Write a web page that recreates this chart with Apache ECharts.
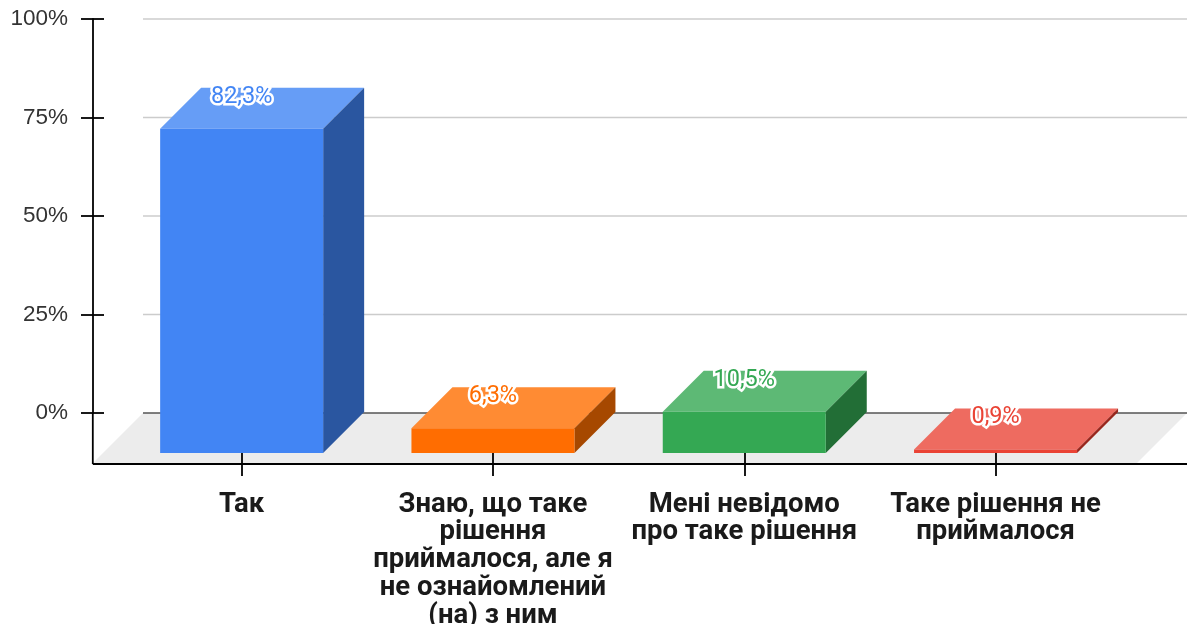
<!DOCTYPE html>
<html>
<head>
<meta charset="utf-8">
<style>
  html, body { margin: 0; padding: 0; background: #fff; }
  #chart { width: 1187px; height: 624px; }
</style>
<script src="https://cdn.jsdelivr.net/npm/echarts@6/dist/echarts.min.js"></script>
</head>
<body>
<div id="chart"></div>
<script>
const categories = [
  'Так',
  'Знаю, що таке\nрішення\nприймалося, але я\nне ознайомлений\n(на) з ним',
  'Мені невідомо\nпро таке рішення',
  'Таке рішення не\nприймалося'
]
const values = [82.3, 6.3, 10.5, 0.9]
const gridTicks = [25, 50, 75, 100]

const frontColors = ['#4285f4', '#ff6d01', '#34a853', '#ea4335']
const topColors = ['#669df6', '#ff8b33', '#5db975', '#ee6b60']
const sideColors = ['#2a56a0', '#a64800', '#226e36', '#98261c']

// fake 3d: the value axis is the back wall, the front face is shifted by depth
const depth = 41
const barHalf = 81.5
const floorDrop = 51
const axisX = 92.8
const wallLeft = 143
const wallRight = 1187
const axisColor = '#000'

function line(x1, y1, x2, y2, stroke, lineWidth) {
  return {
    type: 'line',
    shape: { x1, y1, x2, y2 },
    style: { stroke, lineWidth }
  }
}

function poly(points, fill) {
  return { type: 'polygon', shape: { points }, style: { fill } }
}

function renderFloor(params, api) {
  const y0 = api.coord([0, 0])[1]
  const yF = y0 + floorDrop
  return {
    type: 'group',
    children: [
      poly(
        [
          [wallLeft, y0],
          [wallRight, y0],
          [wallRight - floorDrop, yF],
          [wallLeft - floorDrop, yF]
        ],
        '#ececec'
      ),
      line(wallLeft, y0, wallRight, y0, '#555', 1.6),
      line(axisX, y0, axisX, yF, axisColor, 1.8),
      line(axisX, yF, wallRight, yF, axisColor, 1.8)
    ]
  }
}

function renderGridLine(params, api) {
  const y = api.coord([0, api.value(0)])[1]
  return line(wallLeft, y, wallRight, y, '#ccc', 1.6)
}

function renderBar(params, api) {
  const i = params.dataIndex
  const [cx, yTop] = api.coord([api.value(0), api.value(1)])
  const y0 = api.coord([0, 0])[1]
  const left = cx - barHalf
  const right = cx + barHalf
  const backTop = yTop - 1
  const backBottom = y0 - 1
  return {
    type: 'group',
    children: [
      poly(
        [
          [left, backTop + depth],
          [right, backTop + depth],
          [right + depth, backTop],
          [left + depth, backTop]
        ],
        topColors[i]
      ),
      poly(
        [
          [right, backTop + depth],
          [right + depth, backTop],
          [right + depth, backBottom],
          [right, backBottom + depth]
        ],
        sideColors[i]
      ),
      poly(
        [
          [left, backTop + depth],
          [right, backTop + depth],
          [right, backBottom + depth],
          [left, backBottom + depth]
        ],
        frontColors[i]
      ),
      {
        type: 'text',
        style: {
          text: values[i].toFixed(1).replace('.', ',') + '%',
          x: cx,
          y: backTop + 9,
          align: 'center',
          verticalAlign: 'middle',
          font: '23.5px Roboto',
          fill: frontColors[i],
          stroke: '#fff',
          lineWidth: 5,
          strokeFirst: true
        }
      }
    ]
  }
}

const chart = echarts.init(document.getElementById('chart'), null, { renderer: 'canvas' })

chart.setOption({
  animation: false,
  backgroundColor: '#fff',
  grid: { left: 116, top: 19, width: 1005.2, height: 394, outerBoundsMode: 'none' },
  xAxis: [
    {
      type: 'category',
      data: categories,
      position: 'bottom',
      offset: floorDrop,
      axisLine: { onZero: false, lineStyle: { color: axisColor, width: 1.8 } },
      axisTick: {
        show: true,
        alignWithLabel: true,
        length: 12,
        lineStyle: { color: axisColor, width: 1.8 }
      },
      axisLabel: {
        interval: 0,
        margin: 27,
        fontFamily: 'Roboto',
        fontSize: 27.5,
        fontWeight: 700,
        lineHeight: 27.7,
        color: '#1a1a1a',
        align: 'center',
        verticalAlign: 'top'
      }
    },
    {
      type: 'category',
      data: categories,
      position: 'bottom',
      offset: floorDrop,
      axisLine: { show: false, onZero: false },
      axisTick: {
        show: true,
        alignWithLabel: true,
        inside: true,
        length: 11,
        lineStyle: { color: axisColor, width: 1.8 }
      },
      axisLabel: { show: false }
    }
  ],
  yAxis: [
    {
      type: 'value',
      min: 0,
      max: 100,
      interval: 25,
      position: 'left',
      offset: 23,
      splitLine: { show: false },
      axisLine: { show: true, onZero: false, lineStyle: { color: axisColor, width: 1.8 } },
      axisTick: { show: true, length: 12, lineStyle: { color: axisColor, width: 1.8 } },
      axisLabel: {
        formatter: '{value}%',
        margin: 25,
        padding: [2, 0, 0, 0],
        fontFamily: 'Liberation Sans',
        fontSize: 22.5,
        color: '#333'
      }
    },
    {
      type: 'value',
      min: 0,
      max: 100,
      interval: 25,
      position: 'left',
      offset: 23,
      splitLine: { show: false },
      axisLine: { show: false, onZero: false },
      axisTick: {
        show: true,
        inside: true,
        length: 11,
        lineStyle: { color: axisColor, width: 1.8 }
      },
      axisLabel: { show: false }
    }
  ],
  series: [
    {
      name: 'floor',
      type: 'custom',
      coordinateSystem: 'cartesian2d',
      renderItem: renderFloor,
      data: [[0, 0]],
      clip: false,
      silent: true,
      z: 0
    },
    {
      name: 'grid',
      type: 'custom',
      coordinateSystem: 'cartesian2d',
      renderItem: renderGridLine,
      data: gridTicks.map(v => [v]),
      encode: { y: 0 },
      clip: false,
      silent: true,
      z: 0
    },
    {
      name: 'bars',
      type: 'custom',
      coordinateSystem: 'cartesian2d',
      renderItem: renderBar,
      data: values.map((v, i) => [i, v]),
      encode: { x: 0, y: 1 },
      clip: false,
      z: 5
    }
  ]
})
</script>
</body>
</html>
